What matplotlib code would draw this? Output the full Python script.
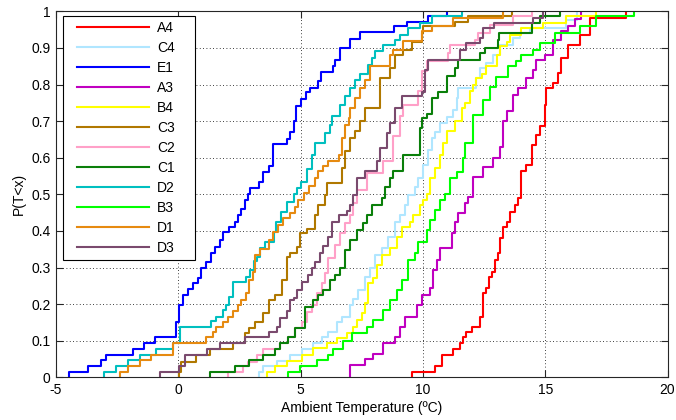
import matplotlib
matplotlib.use("Agg")
import matplotlib.pyplot as plt
from matplotlib.lines import Line2D
from matplotlib.legend_handler import HandlerLine2D
import numpy as np

plt.rcParams['font.family'] = ['Liberation Sans', 'DejaVu Sans']
plt.rcParams['axes.unicode_minus'] = False

# ---- data: empirical CDF step points (temperature at step, P after step) ----
labels = ['A4', 'C4', 'E1', 'A3', 'B4', 'C3', 'C2', 'C1', 'D2', 'B3', 'D1', 'D3']

A4_t = [9.54, 10.49, 10.77, 11.24, 11.51, 11.65, 11.78, 11.99, 12.33, 12.44, 12.60, 12.71, 12.81, 12.95,
        13.07, 13.14, 13.28, 13.42, 13.55, 13.76, 13.89, 14.03, 14.23, 14.44, 14.64, 14.78, 14.98, 15.05,
        15.32, 15.52, 15.66, 15.93, 16.41, 16.82, 18.31]
A4_p = [0.015, 0.032, 0.061, 0.077, 0.093, 0.109, 0.125, 0.138, 0.166, 0.23, 0.245, 0.275, 0.289, 0.32,
        0.339, 0.38, 0.411, 0.425, 0.452, 0.471, 0.489, 0.563, 0.58, 0.636, 0.663, 0.686, 0.745, 0.79,
        0.804, 0.831, 0.872, 0.909, 0.936, 0.982, 1.0]

C4_t = [3.28, 3.48, 4.03, 4.57, 5.05, 5.52, 5.87, 6.14, 6.48, 6.68, 7.02, 7.16, 7.36, 7.63, 7.84, 8.04,
        8.31, 8.59, 8.86, 9.06, 9.27, 9.40, 9.67, 9.81, 10.02, 10.22, 10.36, 10.49, 10.70, 10.97, 11.24,
        11.38, 11.44, 12.19, 12.33, 12.60, 12.87, 13.14, 13.69, 13.96, 14.37, 15.87, 16.30]
C4_p = [0.015, 0.03, 0.045, 0.061, 0.077, 0.093, 0.109, 0.125, 0.152, 0.166, 0.198, 0.215, 0.239, 0.275,
        0.30, 0.334, 0.352, 0.384, 0.425, 0.443, 0.471, 0.498, 0.52, 0.545, 0.581, 0.62, 0.654, 0.67,
        0.695, 0.712, 0.731, 0.763, 0.79, 0.818, 0.845, 0.86, 0.881, 0.909, 0.927, 0.94, 0.954, 0.975, 1.0]

E1_t = [-4.45, -3.70, -3.18, -2.94, -1.85, -1.42, -0.94, -0.08, 0.02, 0.19, 0.40, 0.60, 0.81, 0.94,
        1.14, 1.35, 1.48, 1.69, 1.82, 2.09, 2.30, 2.44, 2.57, 2.71, 2.84, 2.94, 3.28, 3.48, 3.69, 3.89,
        4.46, 4.57, 4.71, 4.82, 5.02, 5.22, 5.39, 5.73, 5.82, 6.34, 6.41, 6.61, 7.02, 7.43, 8.83, 9.34,
        10.19, 10.97]
E1_p = [0.015, 0.032, 0.047, 0.061, 0.077, 0.093, 0.109, 0.152, 0.198, 0.225, 0.24, 0.257, 0.27, 0.298,
        0.315, 0.339, 0.355, 0.375, 0.398, 0.41, 0.425, 0.443, 0.46, 0.484, 0.50, 0.518, 0.534, 0.56,
        0.578, 0.637, 0.65, 0.67, 0.70, 0.741, 0.76, 0.78, 0.79, 0.81, 0.835, 0.85, 0.867, 0.90, 0.925,
        0.943, 0.959, 0.972, 0.986, 1.0]

A3_t = [7.02, 7.63, 7.97, 8.38, 8.86, 9.06, 9.27, 9.74, 9.95, 10.29, 10.42, 10.56, 10.70, 11.17, 11.31,
        11.44, 11.72, 11.85, 12.06, 12.46, 12.87, 13.14, 13.28, 13.42, 13.69, 13.89, 14.23, 14.50, 14.64,
        14.98, 15.32, 15.66, 15.93, 16.20, 16.47]
A3_p = [0.034, 0.05, 0.065, 0.093, 0.111, 0.138, 0.166, 0.198, 0.225, 0.243, 0.293, 0.32, 0.352, 0.393,
        0.425, 0.45, 0.475, 0.493, 0.548, 0.575, 0.60, 0.63, 0.70, 0.727, 0.772, 0.79, 0.818, 0.84,
        0.866, 0.88, 0.922, 0.945, 0.96, 0.978, 1.0]

B4_t = [3.62, 3.96, 4.44, 5.05, 5.52, 6.07, 6.48, 6.89, 7.16, 7.29, 7.49, 7.63, 7.77, 7.97, 8.11, 8.31,
        8.65, 8.93, 9.13, 9.47, 9.61, 9.88, 10.02, 10.15, 10.29, 10.49, 10.70, 10.83, 10.97, 11.31, 11.58,
        11.72, 11.92, 12.06, 12.19, 12.40, 12.60, 13.01, 13.14, 13.42, 13.55, 14.03, 14.91, 15.87, 17.09]
B4_p = [0.015, 0.03, 0.045, 0.061, 0.079, 0.093, 0.107, 0.12, 0.138, 0.157, 0.175, 0.202, 0.257, 0.27,
        0.307, 0.334, 0.352, 0.384, 0.411, 0.425, 0.443, 0.471, 0.485, 0.50, 0.545, 0.572, 0.608, 0.64,
        0.672, 0.70, 0.736, 0.75, 0.781, 0.80, 0.818, 0.83, 0.85, 0.881, 0.904, 0.915, 0.936, 0.954,
        0.968, 0.986, 1.0]

C3_t = [0.04, 0.10, 0.73, 1.31, 2.23, 2.71, 2.90, 3.14, 3.48, 3.69, 3.96, 4.23, 4.44, 4.57, 4.84, 4.98,
        5.25, 5.59, 5.73, 6.00, 6.07, 6.68, 6.82, 7.02, 7.22, 7.43, 7.63, 8.24, 8.65, 8.86, 9.20, 9.54,
        9.95, 10.02, 11.31, 11.85, 13.66]
C3_p = [0.015, 0.043, 0.061, 0.077, 0.093, 0.12, 0.134, 0.152, 0.175, 0.211, 0.225, 0.266, 0.33, 0.34,
        0.357, 0.393, 0.405, 0.443, 0.471, 0.498, 0.53, 0.572, 0.617, 0.654, 0.672, 0.70, 0.736, 0.818,
        0.845, 0.881, 0.895, 0.915, 0.94, 0.959, 0.972, 0.986, 1.0]

C2_t = [2.03, 2.64, 2.84, 3.21, 3.48, 4.16, 4.50, 4.78, 5.05, 5.25, 5.46, 5.66, 5.87, 6.00, 6.14, 6.41,
        6.61, 6.82, 7.02, 7.16, 7.29, 7.70, 8.38, 8.79, 9.06, 9.20, 9.81, 9.95, 10.15, 11.04, 11.11,
        12.13, 12.26, 12.74, 13.69, 14.44]
C2_p = [0.015, 0.032, 0.043, 0.061, 0.077, 0.093, 0.111, 0.134, 0.152, 0.179, 0.198, 0.23, 0.257, 0.284,
        0.325, 0.361, 0.393, 0.421, 0.443, 0.475, 0.512, 0.558, 0.59, 0.658, 0.713, 0.745, 0.781, 0.836,
        0.863, 0.886, 0.909, 0.922, 0.94, 0.963, 0.986, 1.0]

C1_t = [1.31, 2.33, 2.87, 3.48, 3.96, 4.16, 4.50, 4.78, 5.18, 5.52, 5.73, 5.93, 6.20, 6.41, 6.61, 6.82,
        7.02, 7.29, 7.56, 7.70, 7.90, 8.31, 8.45, 8.65, 8.79, 9.20, 9.88, 9.95, 10.15, 10.36, 10.63, 10.97,
        11.31, 11.44, 12.33, 12.53, 13.07, 13.10, 14.44, 14.78, 15.59]
C1_p = [0.015, 0.032, 0.047, 0.061, 0.077, 0.093, 0.111, 0.134, 0.193, 0.21, 0.225, 0.239, 0.266, 0.28,
        0.30, 0.348, 0.375, 0.402, 0.421, 0.443, 0.471, 0.489, 0.52, 0.545, 0.565, 0.608, 0.68, 0.708,
        0.72, 0.763, 0.78, 0.822, 0.845, 0.868, 0.885, 0.899, 0.922, 0.942, 0.968, 0.986, 1.0]

D2_t = [-3.03, -2.56, -2.05, -1.58, -0.90, -0.22, 0.05, 1.35, 1.55, 1.82, 1.96, 2.07, 2.23, 2.78, 2.95,
        3.11, 3.21, 3.35, 3.55, 3.92, 4.00, 4.19, 4.44, 4.73, 4.84, 5.00, 5.25, 5.46, 5.59, 6.00, 6.20,
        6.28, 6.61, 6.82, 7.02, 7.22, 7.43, 7.77, 7.90, 8.04, 8.38, 8.86, 9.06, 9.40, 9.88, 10.36, 11.58]
D2_p = [0.015, 0.032, 0.047, 0.061, 0.077, 0.093, 0.138, 0.154, 0.166, 0.184, 0.198, 0.22, 0.261, 0.273,
        0.293, 0.319, 0.33, 0.352, 0.37, 0.398, 0.425, 0.452, 0.48, 0.50, 0.517, 0.533, 0.57, 0.608,
        0.639, 0.667, 0.69, 0.713, 0.745, 0.768, 0.79, 0.813, 0.83, 0.854, 0.872, 0.891, 0.907, 0.922,
        0.936, 0.954, 0.968, 0.986, 1.0]

B3_t = [4.50, 4.98, 5.66, 6.14, 6.34, 6.75, 7.09, 7.70, 7.97, 8.38, 8.65, 8.93, 9.13, 9.40, 9.67, 9.81,
        10.15, 10.29, 10.49, 10.70, 10.89, 11.10, 11.38, 11.65, 11.72, 12.06, 12.46, 12.74, 13.00, 13.48,
        13.82, 14.03, 14.50, 14.78, 15.39, 16.41, 17.09, 18.65]
B3_p = [0.015, 0.03, 0.047, 0.061, 0.077, 0.10, 0.12, 0.138, 0.157, 0.184, 0.211, 0.239, 0.266, 0.321,
        0.339, 0.37, 0.402, 0.43, 0.457, 0.484, 0.50, 0.544, 0.56, 0.598, 0.639, 0.717, 0.758, 0.794,
        0.821, 0.85, 0.863, 0.881, 0.895, 0.913, 0.94, 0.959, 0.986, 1.0]

D1_t = [-2.40, -2.05, -1.58, -1.10, -0.22, 1.14, 1.42, 1.55, 1.82, 2.03, 2.23, 2.44, 2.57, 2.78, 2.90,
        3.05, 3.14, 3.35, 3.69, 3.89, 4.09, 4.30, 4.57, 4.78, 4.91, 5.12, 5.36, 5.59, 5.73, 5.93, 6.14,
        6.55, 6.68, 6.82, 6.96, 7.02, 7.22, 7.43, 7.63, 7.84, 8.65, 8.79, 9.20, 9.95, 10.36, 11.24, 13.28]
D1_p = [0.015, 0.032, 0.047, 0.061, 0.093, 0.111, 0.125, 0.138, 0.152, 0.166, 0.18, 0.198, 0.21, 0.23,
        0.266, 0.289, 0.334, 0.35, 0.375, 0.398, 0.416, 0.434, 0.448, 0.466, 0.484, 0.503, 0.522, 0.545,
        0.563, 0.577, 0.59, 0.608, 0.654, 0.69, 0.708, 0.736, 0.763, 0.79, 0.813, 0.85, 0.881, 0.895,
        0.918, 0.945, 0.959, 0.982, 1.0]

D3_t = [-0.76, 0.01, 0.29, 1.17, 1.71, 2.73, 3.69, 4.03, 4.16, 4.44, 4.57, 4.71, 4.84, 5.05, 5.32, 5.46,
        5.59, 5.80, 5.93, 6.14, 6.28, 6.55, 6.89, 7.02, 7.16, 7.29, 7.63, 8.11, 8.24, 8.52, 8.65, 8.86,
        9.13, 9.95, 10.09, 10.22, 11.51, 11.78, 12.33, 12.46, 12.90, 14.50, 14.91]
D3_p = [0.015, 0.032, 0.061, 0.077, 0.093, 0.111, 0.125, 0.138, 0.161, 0.18, 0.211, 0.216, 0.239, 0.261,
        0.28, 0.30, 0.316, 0.34, 0.36, 0.384, 0.425, 0.443, 0.455, 0.471, 0.498, 0.545, 0.563, 0.59,
        0.626, 0.667, 0.695, 0.736, 0.768, 0.78, 0.84, 0.868, 0.895, 0.913, 0.927, 0.954, 0.968, 0.982, 1.0]

series_t = [A4_t, C4_t, E1_t, A3_t, B4_t, C3_t, C2_t, C1_t, D2_t, B3_t, D1_t, D3_t]
series_p = [A4_p, C4_p, E1_p, A3_p, B4_p, C3_p, C2_p, C1_p, D2_p, B3_p, D1_p, D3_p]
colors = ['#FF0000', '#B0E6FF', '#0000FF', '#C000C0', '#FFFF00', '#B07800',
          '#FFA0C8', '#0A7F0A', '#00BFBF', '#00FF00', '#E68A10', '#7A4A6E']

xticks = [-5, 0, 5, 10, 15, 20]
yticks = [0, 0.1, 0.2, 0.3, 0.4, 0.5, 0.6, 0.7, 0.8, 0.9, 1]
ytick_labels = ['0', '0.1', '0.2', '0.3', '0.4', '0.5', '0.6', '0.7', '0.8', '0.9', '1']

LW = 1.5

fig = plt.figure(figsize=(6.76, 4.20), dpi=100)
ax = fig.add_axes([56 / 676, 42.7 / 420, 611.5 / 676, 366 / 420])

for lab, t, p, c in zip(labels, series_t, series_p, colors):
    xs = np.concatenate([[t[0]], np.asarray(t, dtype=float)])
    ps = np.concatenate([[0.0], np.asarray(p, dtype=float)])
    ax.step(xs, ps, where='post', color=c, lw=LW)

ax.set_xlim(-5, 20)
ax.set_ylim(0, 1)
ax.set_xticks(xticks)
ax.set_xticklabels([str(v) for v in xticks])
ax.set_yticks(yticks)
ax.set_yticklabels(ytick_labels)
ax.grid(True, color='k', linestyle=(0, (1, 3)), linewidth=0.6)
ax.tick_params(direction='in', length=5, width=0.8, top=True, right=True,
               labelsize=10, colors='#262626', labelcolor='black', pad=4)
for s in ax.spines.values():
    s.set_color('#262626')
    s.set_linewidth(0.8)

ax.set_xlabel('Ambient Temperature (ºC)', fontsize=10, labelpad=3)
ax.set_ylabel('P(T<x)', fontsize=10, labelpad=4)

handles = [Line2D([0, 1], [0, 0], color=c, lw=LW) for c in colors]
leg = ax.legend(handles, labels, loc='upper left',
                bbox_to_anchor=(7 / 611.5, 0.3178, 132 / 611.5, 0.669), mode='expand',
                borderaxespad=0, fontsize=10, handlelength=5.85, handletextpad=0.55,
                labelspacing=0.43, fancybox=False, framealpha=1, edgecolor='black',
                borderpad=0.35, handler_map={Line2D: HandlerLine2D(xpad=0.65)})
leg.get_frame().set_linewidth(0.8)

fig.savefig('out.png', dpi=100)
